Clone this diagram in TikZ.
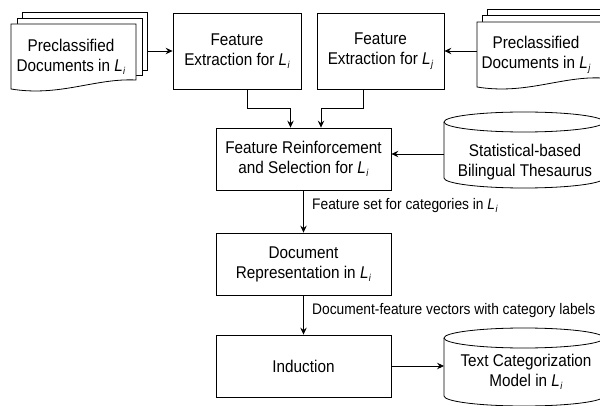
\documentclass[tikz,border=0pt]{standalone}
\usepackage{fontspec}
\setmainfont{Liberation Sans}[FakeStretch=0.9]
\usetikzlibrary{arrows.meta,calc}
\newcommand\Lsub[1]{\textit{L}\kern0.4pt\raisebox{-3pt}{\fontsize{10}{10}\selectfont\textit{#1}}}
\tikzset{
  box/.style={draw, line width=0.8pt, fill=white, minimum width=#1, minimum height=62pt,
              inner sep=0pt, align=center},
  txt/.style={align=center, inner sep=0pt},
  lbl/.style={anchor=west, inner sep=0pt, font=\fontsize{15.3}{18}\selectfont},
  arr/.style={draw, line width=0.8pt, -{Stealth[length=7pt,width=6.5pt,inset=2.5pt]}},
  shp/.style={draw, line width=0.8pt, fill=white},
}
\begin{document}
\begin{tikzpicture}[x=1pt, y=-1pt, font=\fontsize{17}{20}\selectfont]
\useasboundingbox (0,0) rectangle (600,406);
\clip (0,0) rectangle (600,406);

% stacked documents, left
\draw[shp] (22,12) rectangle (147,70);
\draw[shp] (17,18) rectangle (142,75);
\draw[shp] (11,24) -- (136,24) -- (136,80)
  .. controls (95,78) and (60,97) .. (11,89) -- cycle;
\node[txt] (docL) at (71,57) {Preclassified\\Documents in \Lsub{i}};
\coordinate (docLout) at (147,51);

% stacked documents, right
\draw[shp] (487,9) rectangle (612,68);
\draw[shp] (482,15) rectangle (607,73);
\draw[shp] (477,22) -- (602,22) -- (602,78)
  .. controls (561,76) and (526,95) .. (477,87) -- cycle;
\node[txt] (docR) at (536,55) {Preclassified\\Documents in \Lsub{j}};
\coordinate (docRout) at (477,51);

% feature extraction boxes
\node[box=128pt, minimum height=76pt] (feLi) at (237,51) {Feature\\Extraction for \Lsub{i}};
\node[box=127pt, minimum height=76pt] (feLj) at (380.5,51) {Feature\\Extraction for \Lsub{j}};

% main column
\node[box=175pt] (reinf) at (303.5,159) {Feature Reinforcement\\and Selection for \Lsub{i}};
\node[box=175pt] (docrep) at (303.5,264) {Document\\Representation in \Lsub{i}};
\node[box=175pt] (induct) at (303.5,366) {Induction};

% thesaurus cylinder
\draw[shp] (444,122) -- (444,178)
  arc[start angle=180, end angle=360, x radius=80pt, y radius=10pt]
  -- (604,122)
  arc[start angle=0, end angle=180, x radius=80pt, y radius=10pt] -- cycle;
\draw[line width=0.8pt] (444,122)
  arc[start angle=180, end angle=360, x radius=80pt, y radius=10pt];
\node[txt] (thes) at (525,162) {Statistical-based\\Bilingual Thesaurus};
\coordinate (thesL) at (444,154);

% model cylinder
\draw[shp] (444,338) -- (444,396)
  arc[start angle=180, end angle=360, x radius=80pt, y radius=10pt]
  -- (604,338)
  arc[start angle=0, end angle=180, x radius=80pt, y radius=10pt] -- cycle;
\draw[line width=0.8pt] (444,338)
  arc[start angle=180, end angle=360, x radius=80pt, y radius=10pt];
\node[txt] (model) at (526,372) {Text Categorization\\Model in \Lsub{i}};
\coordinate (modelL) at (444,366);

% connectors
\draw[arr] (docLout) -- (feLi.west);
\draw[arr] (docRout) -- (feLj.east);
\draw[arr] ([xshift=10pt]feLi.south) -- ++(0,19) -| ([xshift=-13pt]reinf.north);
\draw[arr] ([xshift=-17.5pt]feLj.south) -- ++(0,19) -| ([xshift=17.5pt]reinf.north);
\draw[arr] (thesL) -- (thesL -| reinf.east);
\draw[arr] (reinf.south) -- (docrep.north);
\draw[arr] (docrep.south) -- (induct.north);
\draw[arr] (induct.east) -- (modelL);

% edge labels
\node[lbl] (l1) at (312,206) {Feature set for categories in \Lsub{i}};
\node[lbl] (l2) at (312,311) {Document-feature vectors with category labels};
\end{tikzpicture}
\end{document}
